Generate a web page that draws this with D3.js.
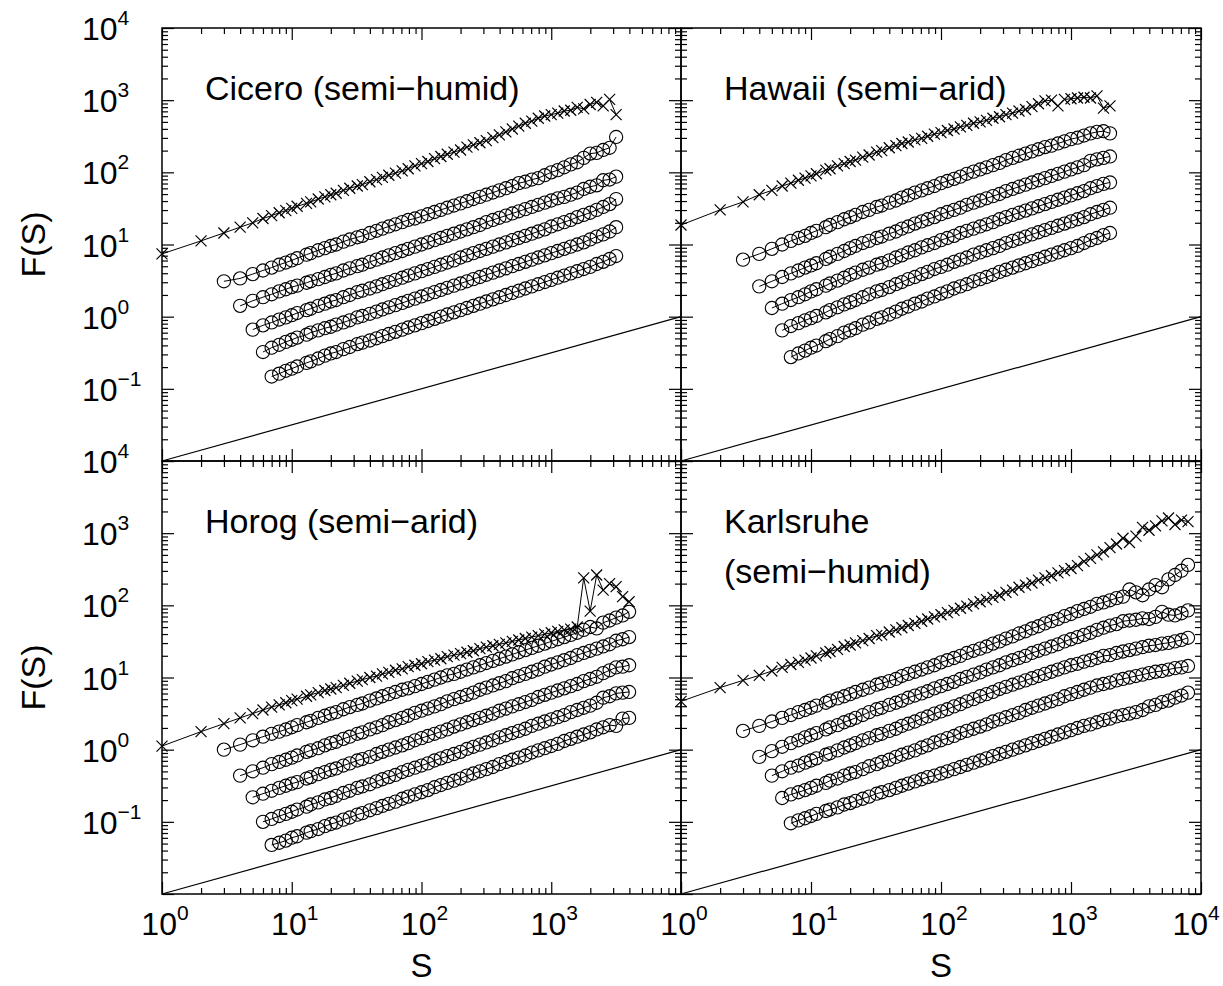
<!DOCTYPE html>
<html>
<head>
<meta charset="utf-8">
<script src="https://cdn.jsdelivr.net/npm/d3@7"></script>
<style>
  body { margin: 0; background: #fff; }
  svg { display: block; }
  text { font-family: "Liberation Sans", Arial, Helvetica, sans-serif; fill: #000; }
</style>
</head>
<body>
<svg id="chart" width="1223" height="986"></svg>
<script>
// Window sizes S shared by all records
const sGrid = [1,2,3,4,5,6,7,8,9,10,11,13,14,16,18,20,22,25,28,32,35,40,45,50,56,63,71,79,89,100,
  112,126,141,158,178,200,224,251,282,316,355,398,447,501,562,631,708,794,891,1000,
  1122,1259,1413,1585,1778,1995,2239,2512,2818,3162,3548,3981,4467,5012,5623,6310,7079,7943];

// First sGrid index of each curve: crosses, then the five circle curves
const seriesStart = [0, 2, 3, 4, 5, 6];

// Axis ranges and tick labels
const sDomain = [1, 1e4];
const fDomain = [1e-2, 1e4];
const yLabelExponents = [-1, 0, 1, 2, 3, 4];
const xLabelExponentsLeft = [0, 1, 2, 3];
const xLabelExponentsRight = [0, 1, 2, 3, 4];

// Guide line of slope 1/2
const refS = [1, 1e4];
const refF = [1e-2, 1];

// log10 F(S) for each station
const ciceroCross = [0.87,1.05,1.16,1.24,1.30,1.36,1.40,1.44,1.47,1.50,
  1.53,1.57,1.59,1.63,1.66,1.69,1.71,1.75,1.78,1.81,
  1.83,1.87,1.90,1.93,1.96,1.99,2.02,2.05,2.09,2.12,
  2.15,2.19,2.22,2.25,2.28,2.31,2.35,2.38,2.41,2.44,
  2.48,2.52,2.56,2.60,2.64,2.68,2.71,2.75,2.78,2.80,
  2.82,2.85,2.86,2.90,2.88,2.94,2.97,2.92,3.01,2.80];
const ciceroC1 = [0.49,0.53,0.59,0.64,0.68,0.72,0.75,0.78,
  0.81,0.86,0.88,0.92,0.95,0.98,1.00,1.04,1.07,1.10,
  1.12,1.16,1.19,1.22,1.25,1.28,1.31,1.34,1.36,1.39,
  1.42,1.45,1.48,1.51,1.54,1.57,1.60,1.63,1.66,1.69,
  1.72,1.75,1.78,1.81,1.85,1.87,1.90,1.92,1.96,2.00,
  2.03,2.07,2.11,2.14,2.20,2.26,2.27,2.31,2.34,2.49];
const ciceroC2 = [0.15,0.22,0.27,0.31,0.35,0.38,0.41,
  0.43,0.47,0.49,0.52,0.55,0.58,0.60,0.64,0.67,0.70,
  0.72,0.76,0.79,0.82,0.85,0.88,0.91,0.94,0.97,1.00,
  1.03,1.06,1.09,1.12,1.15,1.18,1.21,1.24,1.27,1.31,
  1.34,1.37,1.40,1.43,1.46,1.49,1.52,1.55,1.58,1.61,
  1.64,1.66,1.69,1.72,1.77,1.80,1.82,1.89,1.90,1.94];
const ciceroC3 = [-0.18,-0.12,-0.08,-0.04,-0.01,0.02,
  0.05,0.09,0.11,0.15,0.18,0.21,0.23,0.27,0.30,0.34,
  0.36,0.39,0.42,0.45,0.48,0.51,0.54,0.57,0.60,0.63,
  0.66,0.69,0.72,0.75,0.78,0.82,0.85,0.88,0.91,0.94,
  0.97,1.00,1.03,1.06,1.09,1.12,1.15,1.18,1.21,1.25,
  1.28,1.31,1.34,1.38,1.41,1.44,1.48,1.52,1.56,1.63];
const ciceroC4 = [-0.49,-0.43,-0.39,-0.35,-0.32,
  -0.29,-0.25,-0.22,-0.19,-0.16,-0.14,-0.11,-0.08,-0.05,-0.01,
  0.01,0.04,0.07,0.10,0.13,0.16,0.19,0.22,0.25,0.28,
  0.31,0.34,0.37,0.40,0.43,0.46,0.49,0.52,0.55,0.58,
  0.61,0.64,0.67,0.70,0.73,0.76,0.79,0.82,0.85,0.88,
  0.91,0.94,0.97,1.00,1.03,1.07,1.11,1.14,1.18,1.24];
const ciceroC5 = [-0.83,-0.79,-0.75,-0.72,
  -0.69,-0.64,-0.62,-0.58,-0.54,-0.51,-0.49,-0.45,-0.42,-0.38,
  -0.36,-0.33,-0.30,-0.27,-0.24,-0.21,-0.18,-0.15,-0.12,-0.09,
  -0.06,-0.03,0.00,0.03,0.06,0.09,0.12,0.15,0.18,0.21,
  0.24,0.27,0.30,0.33,0.36,0.39,0.42,0.45,0.48,0.51,
  0.54,0.57,0.60,0.63,0.66,0.69,0.73,0.76,0.80,0.84];

const hawaiiCross = [1.27,1.48,1.59,1.69,1.75,1.81,1.85,1.89,1.92,1.95,
  1.98,2.03,2.05,2.09,2.12,2.15,2.17,2.21,2.24,2.28,
  2.30,2.34,2.37,2.40,2.42,2.45,2.47,2.50,2.53,2.55,
  2.58,2.60,2.63,2.65,2.68,2.70,2.72,2.75,2.77,2.80,
  2.82,2.85,2.87,2.91,2.95,2.99,3.00,2.92,3.01,3.02,
  3.03,3.04,3.03,3.06,2.89,2.92];
const hawaiiC1 = [0.79,0.87,0.94,1.00,1.05,1.09,1.12,1.16,
  1.19,1.24,1.27,1.31,1.35,1.38,1.41,1.45,1.48,1.52,
  1.54,1.58,1.61,1.65,1.68,1.72,1.75,1.78,1.81,1.85,
  1.88,1.91,1.94,1.98,2.01,2.04,2.07,2.10,2.13,2.17,
  2.20,2.23,2.26,2.29,2.32,2.35,2.37,2.40,2.43,2.46,
  2.48,2.51,2.54,2.56,2.57,2.54];
const hawaiiC2 = [0.42,0.49,0.55,0.60,0.64,0.68,0.71,
  0.74,0.80,0.83,0.87,0.91,0.95,0.98,1.02,1.05,1.09,
  1.11,1.15,1.18,1.22,1.25,1.29,1.32,1.35,1.38,1.42,
  1.45,1.48,1.51,1.55,1.58,1.61,1.64,1.67,1.70,1.74,
  1.77,1.80,1.83,1.86,1.89,1.92,1.95,1.98,2.01,2.04,
  2.07,2.10,2.16,2.18,2.20,2.22];
const hawaiiC3 = [0.12,0.18,0.23,0.27,0.31,0.35,
  0.38,0.43,0.46,0.50,0.54,0.58,0.61,0.65,0.68,0.72,
  0.74,0.78,0.82,0.85,0.89,0.92,0.96,0.99,1.02,1.06,
  1.09,1.12,1.16,1.19,1.22,1.25,1.28,1.31,1.35,1.38,
  1.41,1.44,1.47,1.50,1.53,1.56,1.59,1.62,1.65,1.68,
  1.71,1.74,1.78,1.81,1.84,1.86];
const hawaiiC4 = [-0.19,-0.13,-0.09,-0.05,-0.02,
  0.01,0.06,0.09,0.13,0.17,0.20,0.23,0.27,0.31,0.35,
  0.37,0.41,0.45,0.48,0.52,0.55,0.59,0.62,0.66,0.69,
  0.72,0.76,0.79,0.82,0.86,0.89,0.92,0.95,0.98,1.02,
  1.05,1.08,1.11,1.14,1.17,1.20,1.23,1.26,1.29,1.32,
  1.35,1.38,1.42,1.45,1.48,1.51];
const hawaiiC5 = [-0.56,-0.51,-0.47,-0.43,
  -0.40,-0.34,-0.31,-0.27,-0.22,-0.19,-0.16,-0.11,-0.08,-0.03,
  -0.01,0.03,0.07,0.11,0.14,0.18,0.21,0.25,0.28,0.32,
  0.35,0.39,0.42,0.45,0.49,0.52,0.55,0.58,0.62,0.65,
  0.68,0.71,0.74,0.77,0.80,0.83,0.86,0.89,0.92,0.95,
  0.98,1.02,1.06,1.09,1.13,1.16];

const horogCross = [0.05,0.25,0.36,0.44,0.50,0.55,0.59,0.62,0.65,0.68,
  0.70,0.74,0.76,0.79,0.82,0.84,0.86,0.89,0.92,0.95,
  0.97,1.00,1.02,1.05,1.07,1.10,1.12,1.15,1.17,1.19,
  1.22,1.24,1.26,1.29,1.31,1.33,1.35,1.37,1.40,1.42,
  1.44,1.46,1.48,1.50,1.52,1.54,1.56,1.58,1.60,1.62,
  1.64,1.66,1.67,1.70,2.38,1.92,2.42,2.21,2.30,2.26,
  2.12,2.05];
const horogC1 = [0.00,0.07,0.13,0.18,0.22,0.25,0.28,0.31,
  0.34,0.38,0.40,0.44,0.47,0.50,0.52,0.56,0.59,0.62,
  0.64,0.68,0.71,0.74,0.77,0.80,0.83,0.85,0.88,0.91,
  0.94,0.97,1.00,1.03,1.05,1.08,1.11,1.14,1.17,1.20,
  1.23,1.26,1.29,1.32,1.35,1.38,1.41,1.44,1.47,1.50,
  1.53,1.56,1.59,1.62,1.66,1.70,1.68,1.76,1.79,1.83,
  1.86,1.91];
const horogC2 = [-0.36,-0.30,-0.25,-0.20,-0.17,-0.14,-0.11,
  -0.08,-0.03,-0.01,0.02,0.06,0.09,0.11,0.15,0.18,0.22,
  0.24,0.28,0.31,0.34,0.38,0.41,0.44,0.47,0.51,0.54,
  0.57,0.60,0.63,0.67,0.70,0.73,0.76,0.79,0.83,0.86,
  0.89,0.92,0.95,0.99,1.02,1.05,1.08,1.11,1.15,1.18,
  1.21,1.24,1.27,1.31,1.34,1.37,1.40,1.43,1.46,1.51,
  1.53,1.56];
const horogC3 = [-0.66,-0.61,-0.57,-0.53,-0.50,-0.47,
  -0.45,-0.40,-0.38,-0.34,-0.31,-0.28,-0.26,-0.22,-0.19,-0.15,
  -0.13,-0.10,-0.06,-0.03,0.00,0.03,0.06,0.09,0.13,0.16,
  0.19,0.22,0.25,0.28,0.32,0.35,0.38,0.41,0.44,0.47,
  0.50,0.54,0.57,0.60,0.63,0.66,0.69,0.73,0.76,0.79,
  0.82,0.85,0.88,0.91,0.95,0.98,1.01,1.06,1.10,1.14,
  1.15,1.17];
const horogC4 = [-1.00,-0.96,-0.92,-0.89,-0.86,
  -0.83,-0.79,-0.76,-0.73,-0.69,-0.67,-0.64,-0.60,-0.57,-0.53,
  -0.51,-0.48,-0.44,-0.41,-0.38,-0.35,-0.31,-0.28,-0.25,-0.22,
  -0.19,-0.15,-0.12,-0.09,-0.06,-0.03,0.01,0.04,0.07,0.10,
  0.13,0.17,0.20,0.23,0.26,0.29,0.33,0.36,0.39,0.42,
  0.45,0.48,0.52,0.55,0.58,0.61,0.65,0.72,0.74,0.78,
  0.79,0.80];
const horogC5 = [-1.32,-1.29,-1.26,-1.22,
  -1.20,-1.15,-1.13,-1.10,-1.06,-1.03,-1.01,-0.97,-0.94,-0.90,
  -0.88,-0.84,-0.81,-0.78,-0.75,-0.72,-0.68,-0.65,-0.62,-0.59,
  -0.56,-0.52,-0.49,-0.46,-0.43,-0.40,-0.36,-0.33,-0.30,-0.27,
  -0.24,-0.20,-0.17,-0.14,-0.11,-0.08,-0.04,-0.01,0.02,0.05,
  0.08,0.12,0.15,0.18,0.21,0.24,0.28,0.31,0.34,0.33,
  0.43,0.44];

const karlsruheCross = [0.67,0.86,0.96,1.03,1.09,1.14,1.18,1.21,1.24,1.27,
  1.30,1.34,1.36,1.39,1.43,1.45,1.48,1.51,1.54,1.58,
  1.59,1.63,1.66,1.69,1.72,1.75,1.78,1.81,1.84,1.87,
  1.90,1.93,1.96,1.99,2.02,2.05,2.08,2.11,2.14,2.18,
  2.21,2.25,2.28,2.31,2.35,2.38,2.41,2.45,2.48,2.51,
  2.55,2.61,2.65,2.70,2.74,2.80,2.85,2.93,2.87,2.96,
  3.08,3.04,3.10,3.17,3.21,3.12,3.18,3.16];
const karlsruheC1 = [0.26,0.33,0.39,0.44,0.48,0.52,0.55,0.58,
  0.61,0.65,0.68,0.71,0.74,0.77,0.80,0.83,0.86,0.90,
  0.92,0.95,0.98,1.02,1.05,1.08,1.11,1.14,1.17,1.21,
  1.24,1.27,1.30,1.34,1.37,1.40,1.43,1.47,1.50,1.54,
  1.57,1.61,1.64,1.68,1.71,1.75,1.78,1.81,1.85,1.88,
  1.92,1.95,1.98,2.02,2.04,2.07,2.10,2.12,2.22,2.18,
  2.14,2.22,2.28,2.25,2.36,2.42,2.48,2.56];
const karlsruheC2 = [-0.10,-0.02,0.04,0.09,0.13,0.17,0.20,
  0.23,0.28,0.31,0.34,0.38,0.41,0.44,0.48,0.52,0.56,
  0.58,0.62,0.65,0.68,0.72,0.75,0.78,0.81,0.85,0.88,
  0.91,0.94,0.98,1.01,1.04,1.07,1.11,1.14,1.17,1.21,
  1.24,1.27,1.30,1.34,1.37,1.40,1.43,1.46,1.50,1.53,
  1.56,1.59,1.62,1.66,1.69,1.72,1.74,1.78,1.79,1.80,
  1.82,1.81,1.84,1.91,1.87,1.86,1.89,1.93];
const karlsruheC3 = [-0.36,-0.30,-0.25,-0.22,-0.18,-0.15,
  -0.12,-0.07,-0.05,-0.01,0.03,0.06,0.09,0.13,0.16,0.20,
  0.22,0.26,0.29,0.33,0.36,0.39,0.43,0.46,0.50,0.53,
  0.56,0.60,0.63,0.67,0.70,0.74,0.77,0.80,0.84,0.87,
  0.90,0.93,0.96,0.99,1.02,1.05,1.08,1.11,1.14,1.17,
  1.19,1.22,1.24,1.27,1.30,1.31,1.34,1.36,1.38,1.40,
  1.42,1.44,1.45,1.47,1.48,1.50,1.52,1.55];
const karlsruheC4 = [-0.67,-0.62,-0.59,-0.56,-0.53,
  -0.50,-0.46,-0.43,-0.40,-0.36,-0.33,-0.31,-0.27,-0.23,-0.20,
  -0.17,-0.14,-0.10,-0.07,-0.04,-0.01,0.03,0.06,0.10,0.13,
  0.16,0.19,0.23,0.26,0.29,0.32,0.35,0.39,0.42,0.45,
  0.48,0.51,0.55,0.58,0.61,0.64,0.67,0.70,0.74,0.77,
  0.80,0.83,0.86,0.89,0.91,0.93,0.96,0.98,1.00,1.02,
  1.04,1.06,1.08,1.09,1.11,1.13,1.14,1.16];
const karlsruheC5 = [-1.02,-0.98,-0.95,-0.92,
  -0.89,-0.85,-0.83,-0.80,-0.76,-0.74,-0.71,-0.68,-0.65,-0.61,
  -0.59,-0.56,-0.53,-0.50,-0.47,-0.44,-0.41,-0.38,-0.36,-0.33,
  -0.30,-0.27,-0.24,-0.21,-0.18,-0.15,-0.12,-0.09,-0.06,-0.03,
  0.00,0.03,0.06,0.09,0.12,0.15,0.18,0.21,0.24,0.27,
  0.30,0.33,0.35,0.38,0.41,0.43,0.46,0.48,0.50,0.52,
  0.55,0.60,0.62,0.66,0.68,0.72,0.75,0.79];

const stations = [
  { title: ['Cicero (semi\u2212humid)'], col: 0, row: 0,
    curves: [ciceroCross, ciceroC1, ciceroC2, ciceroC3, ciceroC4, ciceroC5] },
  { title: ['Hawaii (semi\u2212arid)'], col: 1, row: 0,
    curves: [hawaiiCross, hawaiiC1, hawaiiC2, hawaiiC3, hawaiiC4, hawaiiC5] },
  { title: ['Horog (semi\u2212arid)'], col: 0, row: 1,
    curves: [horogCross, horogC1, horogC2, horogC3, horogC4, horogC5] },
  { title: ['Karlsruhe', '(semi\u2212humid)'], col: 1, row: 1,
    curves: [karlsruheCross, karlsruheC1, karlsruheC2, karlsruheC3, karlsruheC4, karlsruheC5] }
];

// ---- layout ----
const W = 1223, H = 986;
const colX = [[162, 681], [681, 1201]];
const rowY = [[28, 461], [461, 894]];
const majorLen = 12, minorLen = 6;

const svg = d3.select('#chart');

function decadeMinors(lo, hi) {
  const out = [];
  for (let e = lo; e < hi; e++) for (let m = 2; m <= 9; m++) out.push(m * Math.pow(10, e));
  return out;
}
const sMajors = d3.range(0, 5).map(e => Math.pow(10, e));
const sMinors = decadeMinors(0, 4);
const fMajors = d3.range(-2, 5).map(e => Math.pow(10, e));
const fMinors = decadeMinors(-2, 4);

function supLabel(sel, exp, bigSize, smallSize) {
  sel.append('tspan').attr('font-size', bigSize).text('10');
  sel.append('tspan').attr('font-size', smallSize).attr('dy', -15)
    .text(exp < 0 ? '\u2212' + Math.abs(exp) : String(exp));
}

stations.forEach(st => {
  const [x0, x1] = colX[st.col];
  const [y0, y1] = rowY[st.row];
  const x = d3.scaleLog().domain(sDomain).range([x0, x1]);
  const y = d3.scaleLog().domain(fDomain).range([y1, y0]);
  const g = svg.append('g');

  // tick marks on all four sides, pointing inward
  const tickGroups = [
    { axis: d3.axisBottom(x), t: `translate(0,${y1})`, maj: sMajors, min: sMinors },
    { axis: d3.axisTop(x), t: `translate(0,${y0})`, maj: sMajors, min: sMinors },
    { axis: d3.axisLeft(y), t: `translate(${x0},0)`, maj: fMajors, min: fMinors },
    { axis: d3.axisRight(y), t: `translate(${x1},0)`, maj: fMajors, min: fMinors }
  ];
  tickGroups.forEach(tg => {
    [[tg.maj, majorLen], [tg.min, minorLen]].forEach(([vals, len]) => {
      const a = g.append('g').attr('transform', tg.t)
        .call(tg.axis.tickValues(vals).tickSize(-len).tickSizeOuter(0).tickFormat(''));
      a.select('.domain').remove();
      a.selectAll('line').attr('stroke', '#000').attr('stroke-width', 1.2);
    });
  });

  // guide line
  g.append('path')
    .datum(d3.zip(refS, refF))
    .attr('d', d3.line().x(d => x(d[0])).y(d => y(d[1])))
    .attr('fill', 'none').attr('stroke', '#000').attr('stroke-width', 1.2);

  const line = d3.line().x(d => x(d[0])).y(d => y(d[1]));

  st.curves.forEach((vals, k) => {
    const pts = vals.map((v, i) => [sGrid[seriesStart[k] + i], Math.pow(10, v)]);
    g.append('path').datum(pts).attr('d', line)
      .attr('fill', 'none').attr('stroke', '#000').attr('stroke-width', 1);
    if (k === 0) {
      g.append('g').selectAll('path').data(pts).join('path')
        .attr('transform', d => `translate(${x(d[0])},${y(d[1])})`)
        .attr('d', 'M-5.5,-5.5L5.5,5.5M-5.5,5.5L5.5,-5.5')
        .attr('stroke', '#000').attr('stroke-width', 1.2).attr('fill', 'none');
    } else {
      g.append('g').selectAll('circle').data(pts).join('circle')
        .attr('cx', d => x(d[0])).attr('cy', d => y(d[1])).attr('r', 6.6)
        .attr('fill', 'none').attr('stroke', '#000').attr('stroke-width', 1.1);
    }
  });

  // frame
  g.append('rect').attr('x', x0).attr('y', y0).attr('width', x1 - x0).attr('height', y1 - y0)
    .attr('fill', 'none').attr('stroke', '#000').attr('stroke-width', 1.5);

  // station name
  st.title.forEach((t, i) => {
    g.append('text').attr('x', x0 + 43).attr('y', y0 + 72 + i * 50)
      .attr('font-size', 34).text(t);
  });

  // y tick labels on the left column
  if (st.col === 0) {
    yLabelExponents.forEach(e => {
      const tx = svg.append('text').attr('x', 82).attr('y', y(Math.pow(10, e)) + 12);
      supLabel(tx, e, 32, 21);
    });
    svg.append('text')
      .attr('transform', `translate(45,${(y0 + y1) / 2}) rotate(-90)`)
      .attr('text-anchor', 'middle').attr('font-size', 34).text('F(S)');
  }

  // x tick labels on the bottom row
  if (st.row === 1) {
    const exps = st.col === 0 ? xLabelExponentsLeft : xLabelExponentsRight;
    exps.forEach(e => {
      const tx = svg.append('text').attr('x', x(Math.pow(10, e)) + 3).attr('y', 935)
        .attr('text-anchor', 'middle');
      supLabel(tx, e, 32, 21);
      const bb = tx.node().getBBox();
      if (bb.x + bb.width > W - 3) tx.attr('x', +tx.attr('x') - (bb.x + bb.width - (W - 3)));
    });
    svg.append('text').attr('x', (x0 + x1) / 2).attr('y', 977)
      .attr('text-anchor', 'middle').attr('font-size', 33).text('S');
  }
});
</script>
</body>
</html>
